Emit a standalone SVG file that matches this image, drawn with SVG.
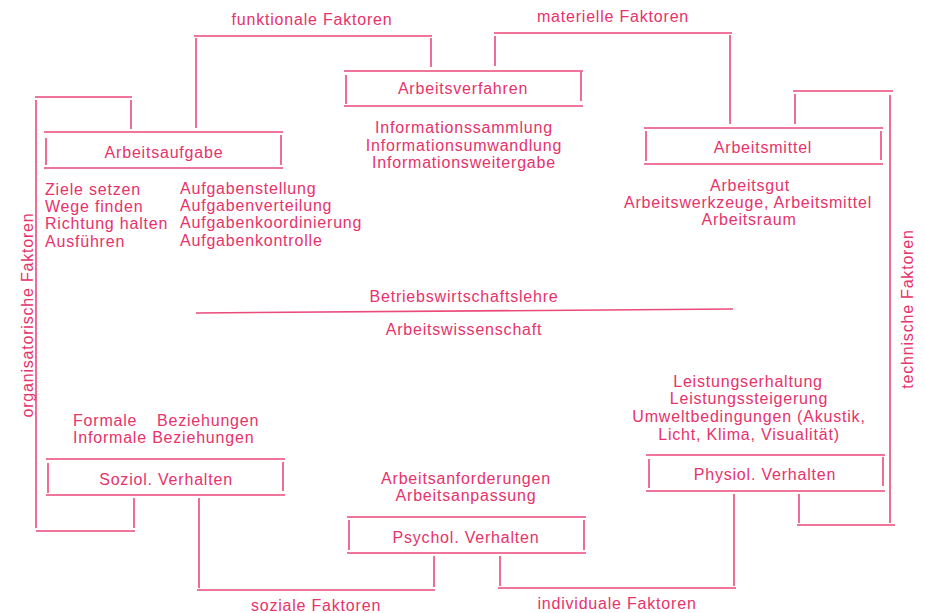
<svg xmlns="http://www.w3.org/2000/svg" width="925" height="613" viewBox="0 0 925 613">
<style>
text{font-family:"Liberation Sans",Arial,sans-serif;font-size:16px;fill:#e6336b;letter-spacing:0.8px}
.m{text-anchor:middle}
line,path{stroke:#ea4a7a;stroke-width:1.6;fill:none}
</style>
<rect width="925" height="613" fill="#ffffff"/>
<g id="connectors">
<path d="M194 36 H432 M196 38 V128 M431 38 V67"/>
<path d="M494 33 H732 M495 36 V66 M730 35 V124"/>
<path d="M35 97 H132 M131 100 V129 M36 100 V528 M36 531 H135 M134 498 V528"/>
<path d="M793 91 H893 M795 94 V124 M890 95 V523 M797 525 H895 M799 494 V523"/>
<path d="M197 590 H435 M199 498 V588 M434 556 V587"/>
<path d="M498 588 H736 M500 556 V586 M734 494 V586"/>
<line x1="196" y1="313" x2="733" y2="309"/>
</g>
<g id="labels">
<text class="m" x="312" y="25">funktionale Faktoren</text>
<text class="m" x="613" y="22">materielle Faktoren</text>
<text class="m" x="316" y="611">soziale Faktoren</text>
<text class="m" x="617" y="609">individuale Faktoren</text>
<text class="m" transform="translate(33 315) rotate(-90)">organisatorische Faktoren</text>
<text class="m" transform="translate(913 309) rotate(-90)">technische Faktoren</text>
<text class="m" x="464" y="302">Betriebswirtschaftslehre</text>
<text class="m" x="464" y="335">Arbeitswissenschaft</text>
</g>
<g id="arbeitsaufgabe">
<path d="M44 132 H283 M44 168 H283 M46 138 V165 M281 135 V165"/>
<text class="m" x="164" y="158">Arbeitsaufgabe</text>
<text x="45" y="195">Ziele setzen</text>
<text x="45" y="212">Wege finden</text>
<text x="45" y="229">Richtung halten</text>
<text x="45" y="247">Ausführen</text>
<text x="180" y="194">Aufgabenstellung</text>
<text x="180" y="211">Aufgabenverteilung</text>
<text x="180" y="228">Aufgabenkoordinierung</text>
<text x="180" y="246">Aufgabenkontrolle</text>
</g>
<g id="arbeitsverfahren">
<path d="M344 71 H583 M344 106 H583 M346 75 V104 M581 72 V101"/>
<text class="m" x="463" y="94">Arbeitsverfahren</text>
<text class="m" x="464" y="133">Informationssammlung</text>
<text class="m" x="464" y="151">Informationsumwandlung</text>
<text class="m" x="464" y="168">Informationsweitergabe</text>
</g>
<g id="arbeitsmittel">
<path d="M644 128 H883 M644 164 H883 M646 131 V161 M881 131 V160"/>
<text class="m" x="763" y="153">Arbeitsmittel</text>
<text class="m" x="750" y="191">Arbeitsgut</text>
<text class="m" x="748" y="208">Arbeitswerkzeuge, Arbeitsmittel</text>
<text class="m" x="749" y="225">Arbeitsraum</text>
</g>
<g id="soziol">
<path d="M46 459 H285 M46 495 H285 M48 463 V493 M283 462 V491"/>
<text class="m" x="166" y="485">Soziol. Verhalten</text>
<text x="73" y="426">Formale</text>
<text x="157" y="426">Beziehungen</text>
<text x="73" y="443">Informale Beziehungen</text>
</g>
<g id="psychol">
<path d="M347 517 H586 M347 553 H586 M349 520 V550 M584 520 V550"/>
<text class="m" x="466" y="543">Psychol. Verhalten</text>
<text class="m" x="466" y="484">Arbeitsanforderungen</text>
<text class="m" x="466" y="501">Arbeitsanpassung</text>
</g>
<g id="physiol">
<path d="M646 455 H885 M646 491 H885 M649 459 V488 M883 457 V486"/>
<text class="m" x="765" y="480">Physiol. Verhalten</text>
<text class="m" x="748" y="387">Leistungserhaltung</text>
<text class="m" x="749" y="404">Leistungssteigerung</text>
<text class="m" x="749" y="422">Umweltbedingungen (Akustik,</text>
<text class="m" x="749" y="440">Licht, Klima, Visualität)</text>
</g>
</svg>
